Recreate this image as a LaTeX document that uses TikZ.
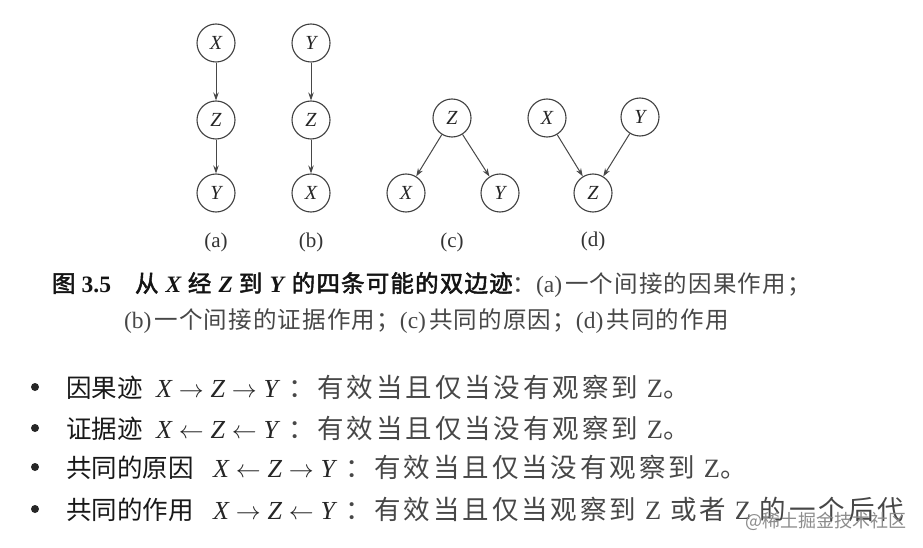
\documentclass[tikz,border=0pt]{standalone}
\usepackage{fontspec}
\setmainfont{Liberation Serif}
\newfontfamily\cjk{Noto Sans CJK SC}
\newfontfamily\cjkb{Noto Sans CJK SC}[FakeBold=2, LetterSpace=5]
\newfontfamily\cjkcap{Noto Sans CJK SC}[LetterSpace=5]
\newfontfamily\cjkthin{Noto Sans CJK SC}[LetterSpace=11]
\newfontfamily\serifthin{Liberation Serif}[LetterSpace=11]
\usetikzlibrary{arrows.meta}
\tikzset{
  vnode/.style={circle, draw=black!75, line width=1.1pt, minimum size=38pt, inner sep=0pt,
    font=\fontsize{20}{20}\selectfont\itshape, text=black!85},
  edge/.style={draw=black!72, line width=1pt, -{Stealth[length=8pt,width=5.5pt]}},
  sublabel/.style={font=\fontsize{21}{21}\selectfont, text=black!80},
  txt/.style={anchor=base west, inner sep=0pt, outer sep=0pt},
  heading/.style={txt, font=\fontsize{25.5}{30}\selectfont\cjk, text=black!90},
  mathpart/.style={txt, font=\fontsize{26}{30}\selectfont, text=black!85},
  thin/.style={txt, font=\fontsize{26.5}{30}\selectfont\cjkthin, text=black!72},
  capb/.style={txt, font=\fontsize{23.5}{26}\selectfont, text=black!92},
  capr/.style={txt, font=\fontsize{23.5}{26}\selectfont, text=black!72},
  dot/.style={circle, fill=black!85, minimum size=8pt, inner sep=0pt},
  wmark/.style={txt, font=\fontsize{18}{20}\selectfont\cjk, text=black!45}
}
\newcommand{\zz}{{\serifthin Z}}
\begin{document}
\begin{tikzpicture}[x=1pt,y=-1pt]
\useasboundingbox[fill=white] (0,0) rectangle (923,548);
% (a)
\node[vnode] (aX) at (216,43) {X};
\node[vnode] (aZ) at (216,120) {Z};
\node[vnode] (aY) at (216,193) {Y};
\draw[edge] (aX) -- (aZ);
\draw[edge] (aZ) -- (aY);
% (b)
\node[vnode] (bY) at (311,43) {Y};
\node[vnode] (bZ) at (311,120) {Z};
\node[vnode] (bX) at (311,193) {X};
\draw[edge] (bY) -- (bZ);
\draw[edge] (bZ) -- (bX);
% (c)
\node[vnode] (cZ) at (452,118) {Z};
\node[vnode] (cX) at (406,193) {X};
\node[vnode] (cY) at (500,193) {Y};
\draw[edge] (cZ) -- (cX);
\draw[edge] (cZ) -- (cY);
% (d)
\node[vnode] (dX) at (547,118) {X};
\node[vnode] (dY) at (640,117) {Y};
\node[vnode] (dZ) at (593,193) {Z};
\draw[edge] (dX) -- (dZ);
\draw[edge] (dY) -- (dZ);
% sublabels
\node[sublabel] (la) at (216,242) {(a)};
\node[sublabel] (lb) at (311,242) {(b)};
\node[sublabel] (lc) at (452,242) {(c)};
\node[sublabel] (ld) at (593,241) {(d)};
% caption
\node[capb] (cap1) at (52,292) {{\cjkb 图}\hspace{5pt}\textbf{3.5}\hspace{24pt}{\cjkb 从}\hspace{6pt}\textbf{\textit{X}}\hspace{6pt}{\cjkb 经}\hspace{6pt}\textbf{\textit{Z}}\hspace{6pt}{\cjkb 到}\hspace{6pt}\textbf{\textit{Y}}\hspace{6pt}{\cjkb 的四条可能的双边迹}\textcolor{black!72}{{\cjkcap ：}(a)\hspace{3pt}{\cjkcap 一个间接的因果作用；}}};
\node[capr] (cap2) at (124,328) {(b)\hspace{3pt}{\cjkcap 一个间接的证据作用；}(c)\hspace{3pt}{\cjkcap 共同的原因；}(d)\hspace{3pt}{\cjkcap 共同的作用}};
% bullets
\node[dot] (d1) at (35,387) {};
\node[dot] (d2) at (35,428) {};
\node[dot] (d3) at (35,467) {};
\node[dot] (d4) at (35,509) {};
\node[heading] (h1) at (66,397) {因果迹};
\node[heading] (h2) at (66,438) {证据迹};
\node[heading] (h3) at (66,477) {共同的原因};
\node[heading] (h4) at (66,519) {共同的作用};
\node[mathpart] (m1) at (156,397) {$\textit{X}\rightarrow\textit{Z}\rightarrow\textit{Y}$};
\node[mathpart] (m2) at (156,438) {$\textit{X}\leftarrow\textit{Z}\leftarrow\textit{Y}$};
\node[mathpart] (m3) at (213,477) {$\textit{X}\leftarrow\textit{Z}\rightarrow\textit{Y}$};
\node[mathpart] (m4) at (213,519) {$\textit{X}\rightarrow\textit{Z}\leftarrow\textit{Y}$};
\node[thin] (t1) at (288,397) {：有效当且仅当没有观察到 \zz。};
\node[thin] (t2) at (288,438) {：有效当且仅当没有观察到 \zz。};
\node[thin] (t3) at (345,477) {：有效当且仅当没有观察到 \zz。};
\node[thin] (t4) at (345,519) {：有效当且仅当观察到 \zz\ 或者 \zz\ 的一个后代};
\node[wmark] (wm) at (745,527) {@稀土掘金技术社区};
\end{tikzpicture}
\end{document}
